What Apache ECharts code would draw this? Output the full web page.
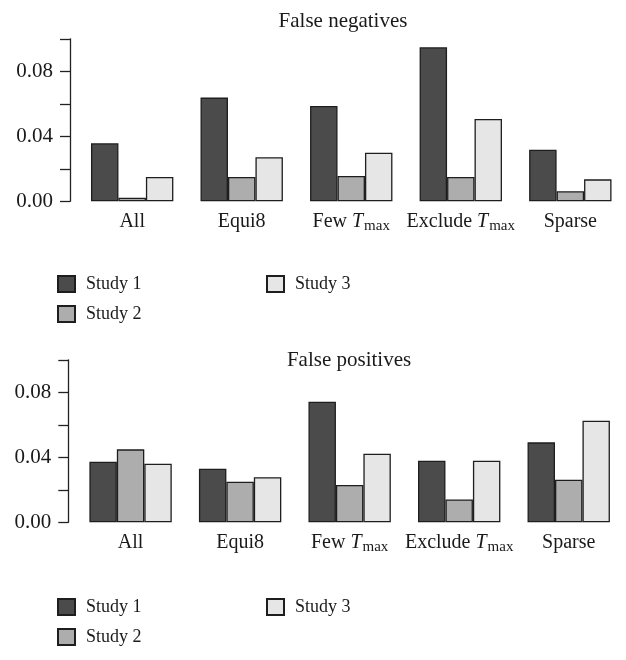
<!DOCTYPE html>
<html>
<head>
<meta charset="utf-8">
<script src="https://cdn.jsdelivr.net/npm/echarts@6/dist/echarts.min.js"></script>
<style>html,body{margin:0;padding:0;background:#fff;}#c{width:626px;height:660px;}</style>
</head>
<body>
<div id="c"></div>
<script>
const categories = ['All', 'Equi8', 'Few Tmax', 'Exclude Tmax', 'Sparse'];
const seriesNames = ['Study 1', 'Study 2', 'Study 3'];
const fnStudy1 = [0.0357, 0.0638, 0.0586, 0.0948, 0.0318];
const fnStudy2 = [0.0022, 0.0150, 0.0156, 0.0150, 0.0062];
const fnStudy3 = [0.0150, 0.0271, 0.0299, 0.0506, 0.0135];
const fpStudy1 = [0.0373, 0.0330, 0.0742, 0.0379, 0.0492];
const fpStudy2 = [0.0449, 0.0250, 0.0230, 0.0141, 0.0262];
const fpStudy3 = [0.0361, 0.0277, 0.0422, 0.0379, 0.0625];
const panelTitles = ['False negatives', 'False positives'];
const yMin = 0, yMax = 0.1, yStep = 0.02, yLabelStep = 0.04;

const FONT = '"Liberation Serif", "DejaVu Serif", serif';
const TXT = '#1a1a1a';
const colors = ['#4b4b4b', '#adadad', '#e6e6e6'];

const chart = echarts.init(document.getElementById('c'));

function xLabelFmt(v) {
  return v.replace('Tmax', '{it|T}{sub|max}');
}
function yLabelFmt(v) {
  const k = Math.round(v / 0.01);
  if (k % Math.round(yLabelStep / 0.01) !== 0) return '';
  return v.toFixed(2);
}

const grids = [
  { left: 77.4, width: 547.7, top: 38.8, height: 162.5 },
  { left: 75.8, width: 547.7, top: 359.8, height: 162.5 }
];
const yOffsets = [7.4, 7.5];

const xAxes = grids.map((g, i) => ({
  type: 'category', gridIndex: i, data: categories,
  axisLine: { show: false }, axisTick: { show: false },
  axisLabel: {
    interval: 0,
    color: TXT, fontFamily: FONT, fontSize: 20, margin: 7, lineHeight: 26,
    formatter: xLabelFmt,
    rich: {
      it: { fontFamily: FONT, fontSize: 20, fontStyle: 'italic', color: TXT, lineHeight: 26 },
      sub: { fontFamily: FONT, fontSize: 15, color: TXT, padding: [10, 0, 0, 1] }
    }
  }
}));
const yAxes = grids.map((g, i) => ({
  type: 'value', gridIndex: i, min: yMin, max: yMax, interval: yStep,
  offset: yOffsets[i],
  axisLine: { show: true, lineStyle: { color: '#222', width: 1.3 } },
  axisTick: { show: true, length: 10, lineStyle: { color: '#222', width: 1.3 } },
  splitLine: { show: false },
  axisLabel: { color: TXT, fontFamily: FONT, fontSize: 21, margin: 17, formatter: yLabelFmt }
}));

const panels = [[fnStudy1, fnStudy2, fnStudy3], [fpStudy1, fpStudy2, fpStudy3]];
const series = [];
panels.forEach((arrs, p) => {
  arrs.forEach((arr, s) => {
    series.push({
      type: 'bar', name: seriesNames[s], xAxisIndex: p, yAxisIndex: p,
      data: arr, barGap: '0%', barCategoryGap: '24.8%',
      itemStyle: { color: colors[s], borderColor: '#1e1e1e', borderWidth: 1.3 },
      emphasis: { disabled: true }, animation: false
    });
  });
});

function legendAt(names, left, top) {
  return {
    data: names, left: left, top: top, orient: 'vertical', padding: 0,
    icon: 'rect', itemWidth: 17, itemHeight: 16, itemGap: 12,
    selectedMode: false,
    textStyle: { color: TXT, fontFamily: FONT, fontSize: 18, padding: [0, 0, 0, 6] }
  };
}

chart.setOption({
  animation: false,
  backgroundColor: '#fff',
  graphic: [
    { type: 'text', x: 343, y: 21, style: { text: panelTitles[0], font: '21px ' + FONT, fill: TXT, align: 'center', verticalAlign: 'middle' } },
    { type: 'text', x: 349, y: 360, style: { text: panelTitles[1], font: '21px ' + FONT, fill: TXT, align: 'center', verticalAlign: 'middle' } }
  ],
  legend: [
    legendAt(['Study 1', 'Study 2'], 57, 275),
    legendAt(['Study 3'], 266, 275),
    legendAt(['Study 1', 'Study 2'], 57, 598),
    legendAt(['Study 3'], 266, 598)
  ],
  grid: grids,
  xAxis: xAxes,
  yAxis: yAxes,
  series: series
});
</script>
</body>
</html>
